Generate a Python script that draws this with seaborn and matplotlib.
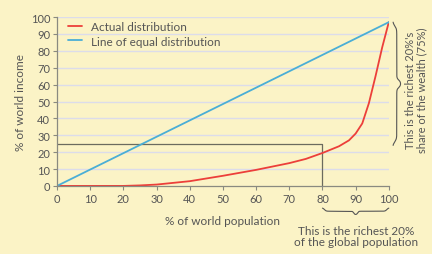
import numpy as np
import pandas as pd
import matplotlib.pyplot as plt
import seaborn as sns

# data
population = [0, 10, 20, 25, 30, 40, 50, 60, 70, 75, 80, 85, 88, 90, 92, 94, 96, 98, 100]
actual = [0, 0, 0, 0.3, 0.8, 2.8, 6, 9.5, 13.5, 16, 19.5, 23.5, 27, 31, 37, 49, 65, 82, 97]
equal_x = [0, 100]
equal_y = [0, 97]
richest_x = 80
richest_share = 25

paper = '#fbf3c6'
ink = '#555555'

sns.set_theme(style='white')
plt.rcParams['font.family'] = ['Lato', 'DejaVu Sans']

fig = plt.figure(figsize=(4.32, 2.55), dpi=100, facecolor=paper)
ax = fig.add_axes([0.132, 0.267, 0.768, 0.662])
ax.set_facecolor(paper)

df_act = pd.DataFrame({'x': population, 'y': actual})
df_eq = pd.DataFrame({'x': equal_x, 'y': equal_y})
sns.lineplot(data=df_act, x='x', y='y', color='#ec3f3a', lw=1.3, label='Actual distribution', ax=ax)
sns.lineplot(data=df_eq, x='x', y='y', color='#4aaed6', lw=1.3, label='Line of equal distribution', ax=ax)

# box for the richest 20%
ax.plot([0, richest_x, richest_x], [richest_share, richest_share, 0], color='#6b6b5e', lw=0.9, zorder=1)

ax.set_xlim(0, 100)
ax.set_ylim(0, 100)
ax.set_xticks(range(0, 101, 10))
ax.set_yticks(range(0, 101, 10))
for yv in range(10, 101, 10):
    ax.axhline(yv, color='#dcdcea', lw=1.0, zorder=0)
for s in ['top', 'right']:
    ax.spines[s].set_visible(False)
for s in ['left', 'bottom']:
    ax.spines[s].set_color('#8a8a80')
    ax.spines[s].set_linewidth(0.9)
ax.tick_params(axis='both', length=3, width=0.8, color='#8a8a80', labelcolor=ink,
               labelsize=8, pad=2, bottom=True, left=True)
ax.set_xlabel('% of world population', fontsize=8.5, color=ink, labelpad=8)
ax.set_ylabel('% of world income', fontsize=8.5, color=ink, labelpad=3)

ax.legend(loc='upper left', bbox_to_anchor=(0.0, 1.04), frameon=False, fontsize=8.5,
          handlelength=1.2, labelspacing=0.3, labelcolor=ink)


# curly brace: ends curl back, tip in the middle
def brace(p0, p1, width):
    t = np.linspace(0, 1, 300)
    sig = lambda v: 1 / (1 + np.exp(-v))
    ends = sig(80 * (t - 0.03)) * sig(80 * (0.97 - t))
    tip = sig(120 * (t - 0.47)) * sig(120 * (0.53 - t))
    prof = width * (0.5 * ends + 0.5 * tip)
    along = p0 + (p1 - p0) * t
    return along, prof


along, prof = brace(80, 100, 4)
ax.plot(along, -13 - prof, color=ink, lw=0.8, clip_on=False)
along, prof = brace(97, 24, 2.4)
ax.plot(101.2 + prof, along, color=ink, lw=0.8, clip_on=False)

fig.text(0.824, 0.07, 'This is the richest 20%\nof the global population', ha='center', va='center',
         fontsize=8.5, color=ink, linespacing=1.05)
fig.text(0.963, 0.645, "This is the richest 20%'s\nshare of the wealth (75%)", ha='center', va='center',
         rotation=90, fontsize=8, color=ink, linespacing=1.05)

fig.savefig('out.png', dpi=100, facecolor=paper)
